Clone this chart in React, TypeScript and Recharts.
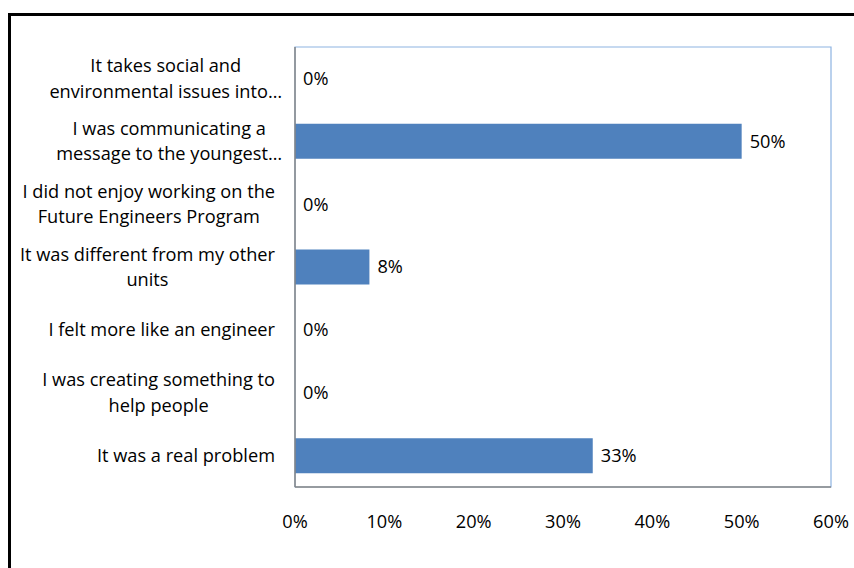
import React from "react";
import { ComposedChart, Bar, Line, XAxis, YAxis, LabelList, ReferenceArea } from "recharts";

const categories: string[] = [
  "It takes social and\nenvironmental issues into…",
  "I was communicating a\nmessage to the youngest…",
  "I did not enjoy working on the\nFuture Engineers Program",
  "It was different from my other\nunits",
  "I felt more like an engineer",
  "I was creating something to\nhelp people",
  "It was a real problem",
];
const values: number[] = [0, 50, 0, 8.33, 0, 0, 33.33];
const xTicks: number[] = [0, 10, 20, 30, 40, 50, 60];

const data = categories.map((c, i) => ({ name: c, value: values[i] }));

const FONT = "'Open Sans', sans-serif";
const FS = 18.2;

let ctx: CanvasRenderingContext2D | null = null;
function measure(t: string): number {
  if (!ctx) {
    const c = document.createElement("canvas");
    ctx = c.getContext("2d");
  }
  if (!ctx) return t.length * 8;
  ctx.font = `${FS}px 'Open Sans'`;
  return ctx.measureText(t).width;
}

const YTick = (props: any) => {
  const { x, y, payload } = props;
  const lines: string[] = String(payload.value).split("\n");
  const w = Math.max(...lines.map((l) => measure(l.replace(/…$/, ""))));
  const cx = x - w / 2;
  const lh = 25.5;
  const start = y - ((lines.length - 1) * lh) / 2;
  return (
    <text x={cx} y={start} textAnchor="middle" fill="#000" fontSize={FS} fontFamily={FONT}>
      {lines.map((l, i) => (
        <tspan key={i} x={cx} y={start + i * lh} dy="0.35em">
          {l}
        </tspan>
      ))}
    </text>
  );
};

const XTick = (props: any) => {
  const { x, y, payload } = props;
  return (
    <text x={x} y={y + 35} dy="0.35em" textAnchor="middle" fill="#000" fontSize={FS} fontFamily={FONT}>
      {`${payload.value}%`}
    </text>
  );
};

export default function App() {
  return (
    <div style={{ position: "fixed", left: 0, top: 0, width: 854, height: 568, background: "#fff" }}>
      <div
        style={{
          position: "absolute",
          left: 8,
          top: 13,
          width: 900,
          height: 600,
          border: "3px solid #000",
          boxSizing: "border-box",
        }}
      />
      <div style={{ position: "absolute", left: 0, top: 0 }}>
        <ComposedChart
          width={854}
          height={568}
          data={data}
          layout="vertical"
          margin={{ top: 47, right: 23, bottom: 41, left: 0 }}
          barCategoryGap={0}
        >
          <ReferenceArea x1={0} x2={60} fill="none" stroke="#8db3e2" strokeWidth={1.2} ifOverflow="visible" />
          <XAxis
            type="number"
            domain={[0, 60]}
            ticks={xTicks}
            height={40}
            tickLine={false}
            tickSize={0}
            tickMargin={0}
            axisLine={{ stroke: "#868686", strokeWidth: 1.5 }}
            tick={<XTick />}
            interval={0}
          />
          <YAxis
            type="category"
            dataKey="name"
            width={295}
            tickLine={false}
            tickSize={0}
            tickMargin={20}
            axisLine={{ stroke: "#868686", strokeWidth: 1.5 }}
            tick={<YTick />}
            interval={0}
          />
          <Bar dataKey="value" fill="#4F81BD" barSize={35} isAnimationActive={false} />
          <Line
            dataKey="value"
            stroke="none"
            dot={false}
            activeDot={false}
            legendType="none"
            isAnimationActive={false}
          >
            <LabelList
              dataKey="value"
              position="right"
              offset={8}
              fill="#000"
              fontSize={FS}
              fontFamily={FONT}
              formatter={(v: any) => `${Math.round(Number(v))}%`}
            />
          </Line>
        </ComposedChart>
      </div>
    </div>
  );
}
